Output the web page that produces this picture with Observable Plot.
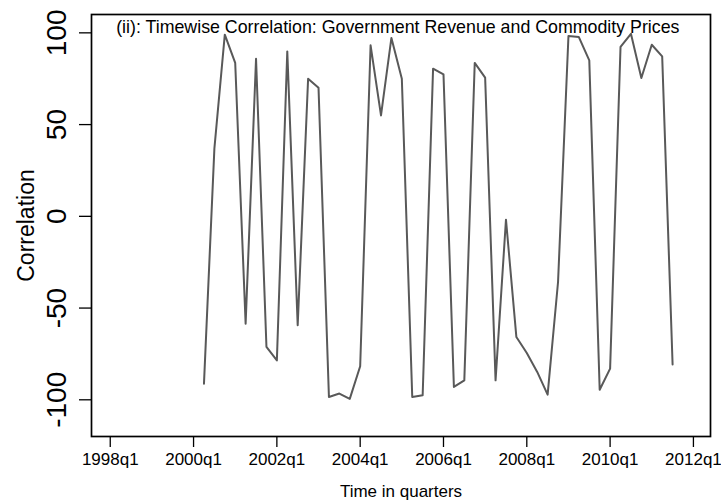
<!DOCTYPE html>
<html>
<head>
<meta charset="utf-8">
<script src="https://cdn.jsdelivr.net/npm/d3@7"></script>
<script src="https://cdn.jsdelivr.net/npm/@observablehq/plot@0.6"></script>
<style>
  html, body { margin: 0; padding: 0; background: #fff; }
  #chart svg { display: block; }
</style>
</head>
<body>
<div id="chart"></div>
<script>
// ---- data ----
const quarters = [
  "2000q2","2000q3","2000q4","2001q1","2001q2","2001q3","2001q4","2002q1",
  "2002q2","2002q3","2002q4","2003q1","2003q2","2003q3","2003q4","2004q1",
  "2004q2","2004q3","2004q4","2005q1","2005q2","2005q3","2005q4","2006q1",
  "2006q2","2006q3","2006q4","2007q1","2007q2","2007q3","2007q4","2008q1",
  "2008q2","2008q3","2008q4","2009q1","2009q2","2009q3","2009q4","2010q1",
  "2010q2","2010q3","2010q4","2011q1","2011q2","2011q3"
];
const correlation = [
  -91.2, 36.9, 99.0, 83.6, -58.5, 85.9, -71.2, -78.5,
   89.9, -59.4, 75.0, 70.1, -98.5, -96.6, -99.5, -81.7,
   93.2, 55.0, 97.2, 75.0, -98.5, -97.5, 80.5, 77.4,
  -93.0, -89.4, 83.6, 75.6, -89.4, -1.8, -65.8, -74.5,
  -84.8, -97.2, -35.8, 98.3, 97.7, 85.0, -94.5, -83.0,
   92.3, 99.5, 75.4, 93.5, 87.2, -80.7
];
const xTickLabels = ["1998q1","2000q1","2002q1","2004q1","2006q1","2008q1","2010q1","2012q1"];
const yTickValues = [-100, -50, 0, 50, 100];
const titleText = "(ii): Timewise Correlation: Government Revenue and Commodity Prices";
const xLabel = "Time in quarters";
const yLabel = "Correlation";

// quarter string -> quarter index counted from 1998q1
const qIndex = s => { const [y, q] = s.split("q").map(Number); return (y - 1998) * 4 + (q - 1); };
const data = quarters.map((q, i) => ({t: qIndex(q), v: correlation[i]}));
const xTicks = xTickLabels.map(qIndex);
const labelOf = new Map(xTickLabels.map(s => [qIndex(s), s]));

const font = "'Liberation Sans', Arial, Helvetica, sans-serif";

const chart = Plot.plot({
  width: 721,
  height: 500,
  marginLeft: 91,
  marginRight: 11,
  marginTop: 14,
  marginBottom: 64,
  style: {fontFamily: font, background: "#fff", color: "#000"},
  x: {domain: [-1.8, 57.64]},
  y: {domain: [-120, 110]},
  marks: [
    Plot.axisX({ticks: xTicks, tickFormat: d => labelOf.get(d), tickSize: 11, tickPadding: 5,
      fontSize: 17, label: null, strokeWidth: 1.3}),
    Plot.axisY({ticks: yTickValues, tickFormat: () => "", tickSize: 12, label: null, strokeWidth: 1.3}),
    Plot.text(yTickValues, {y: d => d, text: d => String(d), frameAnchor: "left", rotate: -90,
      dx: -26, lineAnchor: "bottom", textAnchor: "middle", fontSize: 28, fill: "#000"}),
    Plot.text([yLabel], {frameAnchor: "left", rotate: -90, dx: -58, lineAnchor: "bottom",
      textAnchor: "middle", fontSize: 23, fill: "#000"}),
    Plot.text([xLabel], {frameAnchor: "bottom", dy: 60, lineAnchor: "bottom",
      textAnchor: "middle", fontSize: 17, fill: "#000"}),
    Plot.frame({stroke: "#000", strokeWidth: 1.7}),
    Plot.lineY(data, {x: "t", y: "v", stroke: "#595959", strokeWidth: 2}),
    Plot.text([titleText], {frameAnchor: "top-left", dx: 24.7, dy: 18, lineAnchor: "bottom",
      textAnchor: "start", fontSize: 17.8, fill: "#000"})
  ]
});
document.getElementById("chart").append(chart);
</script>
</body>
</html>
